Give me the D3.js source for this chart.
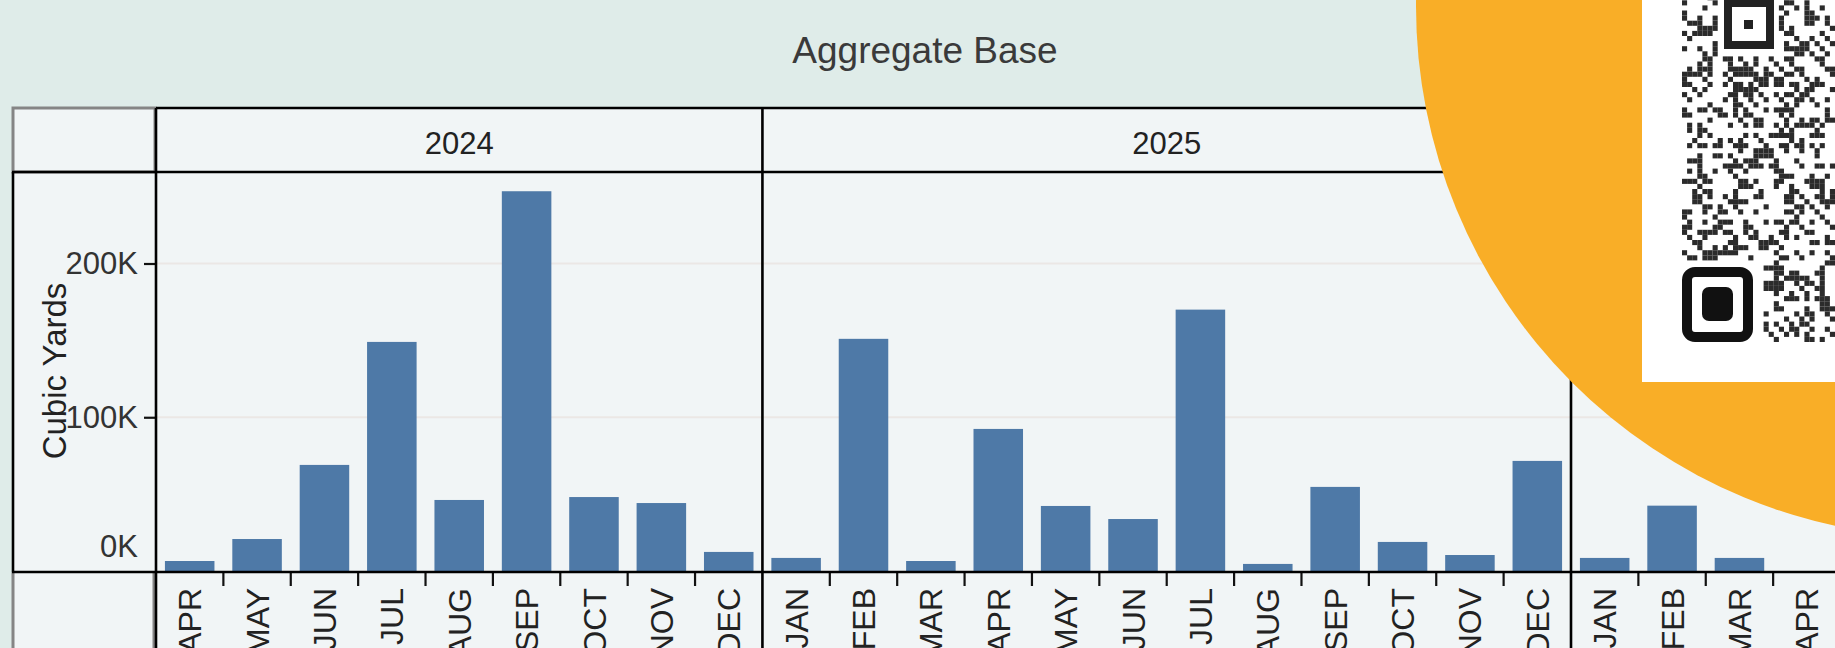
<!DOCTYPE html>
<meta charset="utf-8">
<style>
    body {
        margin: 0;
        font-family: "Liberation Sans", Arial, Helvetica, sans-serif;
        background: #dfece9;
    }

    svg {
        display: block;
    }

    text {
        font-family: "Liberation Sans", Arial, Helvetica, sans-serif;
    }
</style>

<body>
    <script src="https://d3js.org/d3.v7.min.js"></script>
    <script>

        // ------- data -------
        var years = ["2024", "2025", "2026"];

        var months2024 = ["APR", "MAY", "JUN", "JUL", "AUG", "SEP", "OCT", "NOV", "DEC"];
        var values2024 = [6500, 20800, 69000, 149000, 46200, 247000, 48100, 44200, 12400];

        var months2025 = ["JAN", "FEB", "MAR", "APR", "MAY", "JUN", "JUL", "AUG", "SEP", "OCT", "NOV", "DEC"];
        var values2025 = [8500, 151000, 6500, 92400, 42300, 33800, 170000, 4600, 54700, 18900, 10400, 71600];

        var months2026 = ["JAN", "FEB", "MAR", "APR"];
        var values2026 = [8500, 42500, 8500, 0];

        var yTicks = [0, 100000, 200000];

        var panes = [
            { year: years[0], months: months2024, values: values2024 },
            { year: years[1], months: months2025, values: values2025 },
            { year: years[2], months: months2026, values: values2026 }
        ];

        // ------- layout -------
        var width = 1835,
            height = 648;

        var leftX = 12,         // outer table edge
            axisX = 156,        // start of first pane
            topY = 108,         // top of year header
            headerBottom = 172, // bottom of year header
            baseY = 572;        // x axis line

        var totalMonths = months2024.length + months2025.length;
        var step = (1571 - axisX) / totalMonths;

        var y = d3.scaleLinear()
            .domain([0, 200000])
            .range([571, 263.5]);

        var svg = d3.select("body")
            .append("svg")
            .attr("width", width)
            .attr("height", height);

        svg.append("rect")
            .attr("width", width)
            .attr("height", height)
            .attr("fill", "#dfece9");

        // cell background
        svg.append("rect")
            .attr("x", leftX)
            .attr("y", topY)
            .attr("width", width - leftX)
            .attr("height", height - topY)
            .attr("fill", "#f1f5f6");

        // title
        svg.append("text")
            .attr("x", 925)
            .attr("y", 63)
            .attr("text-anchor", "middle")
            .style("font-size", "37px")
            .attr("fill", "#3a3a3a")
            .text("Aggregate Base");

        // gridlines
        svg.append("g").selectAll("line")
            .data(yTicks.filter(function (d) { return d > 0; }))
            .enter().append("line")
            .attr("x1", axisX)
            .attr("x2", width)
            .attr("y1", function (d) { return y(d); })
            .attr("y2", function (d) { return y(d); })
            .attr("stroke", "#ebe7e5")
            .attr("stroke-width", 2);

        /* ------- PANES -------*/
        var x0 = axisX;
        panes.forEach(function (p) {
            var w = p.months.length * step;
            var x = d3.scaleBand()
                .domain(p.months)
                .range([x0, x0 + w])
                .paddingInner(0.265)
                .paddingOuter(0.1325);

            var g = svg.append("g").attr("class", "pane");

            g.selectAll("rect.bar")
                .data(p.months.map(function (m, i) { return { m: m, v: p.values[i] }; }))
                .enter().append("rect")
                .attr("class", "bar")
                .attr("x", function (d) { return x(d.m); })
                .attr("width", x.bandwidth())
                .attr("y", function (d) { return y(d.v); })
                .attr("height", function (d) { return y(0) - y(d.v); })
                .attr("fill", "#4e79a7");

            // month labels
            var ax = g.append("g")
                .attr("transform", "translate(0," + baseY + ")")
                .call(d3.axisBottom(x).tickSize(0).tickSizeOuter(0));
            ax.select(".domain").remove();
            ax.selectAll("text")
                .attr("transform", "rotate(-90)")
                .attr("x", -16)
                .attr("y", 0)
                .attr("dy", "0.36em")
                .style("text-anchor", "end")
                .style("font-size", "32px")
                .attr("fill", "#222");

            // ticks between months
            g.selectAll("line.tick")
                .data(p.months.slice(1))
                .enter().append("line")
                .attr("x1", function (d) { return x(d) - (step - x.bandwidth()) / 2; })
                .attr("x2", function (d) { return x(d) - (step - x.bandwidth()) / 2; })
                .attr("y1", baseY)
                .attr("y2", baseY + 14)
                .attr("stroke", "#111")
                .attr("stroke-width", 2.2);

            // year header
            g.append("text")
                .attr("x", x0 + w / 2)
                .attr("y", 154)
                .attr("text-anchor", "middle")
                .style("font-size", "31px")
                .attr("fill", "#222")
                .text(p.year);

            p.x0 = x0;
            x0 += w;
        });

        /* ------- Y AXIS -------*/
        var yAxis = svg.append("g")
            .attr("transform", "translate(" + axisX + ",0)")
            .call(d3.axisLeft(y)
                .tickValues(yTicks)
                .tickSize(12)
                .tickPadding(6)
                .tickFormat(function (d) { return d / 1000 + "K"; }));
        yAxis.select(".domain").remove();
        yAxis.selectAll("line").attr("stroke", "#111").attr("stroke-width", 2.2);
        yAxis.selectAll("text")
            .style("font-size", "31px")
            .attr("fill", "#333");
        yAxis.selectAll(".tick").filter(function (d) { return d === 0; })
            .call(function (t) {
                t.select("line").remove();
                t.select("text").attr("y", -24);
            });

        svg.append("text")
            .attr("transform", "translate(66,371) rotate(-90)")
            .attr("text-anchor", "middle")
            .style("font-size", "33px")
            .attr("fill", "#222")
            .text("Cubic Yards");

        /* ------- TABLE LINES -------*/
        svg.append("rect")
            .attr("x", leftX + 1)
            .attr("y", topY)
            .attr("width", axisX - leftX - 2)
            .attr("height", headerBottom - topY)
            .attr("fill", "none")
            .attr("stroke", "#858585")
            .attr("stroke-width", 3);

        [leftX + 1, axisX - 2].forEach(function (lx) {
            svg.append("line")
                .attr("x1", lx).attr("x2", lx)
                .attr("y1", baseY).attr("y2", height)
                .attr("stroke", "#858585")
                .attr("stroke-width", 3);
        });

        var lines = svg.append("g")
            .attr("stroke", "#000")
            .attr("stroke-width", 2.6);

        lines.append("line").attr("x1", axisX).attr("x2", width).attr("y1", topY).attr("y2", topY);
        lines.append("line").attr("x1", leftX).attr("x2", width).attr("y1", headerBottom).attr("y2", headerBottom);
        lines.append("line").attr("x1", leftX).attr("x2", width).attr("y1", baseY).attr("y2", baseY);
        lines.append("line").attr("x1", leftX + 1).attr("x2", leftX + 1).attr("y1", headerBottom).attr("y2", baseY);

        panes.forEach(function (p) {
            lines.append("line")
                .attr("x1", p.x0).attr("x2", p.x0)
                .attr("y1", topY).attr("y2", height);
        });

        /* ------- OVERLAY: badge + QR -------*/
        svg.append("circle")
            .attr("cx", 1948)
            .attr("cy", 6)
            .attr("r", 532)
            .attr("fill", "#f9ae27");

        svg.append("rect")
            .attr("x", 1642)
            .attr("y", 0)
            .attr("width", width - 1642)
            .attr("height", 382)
            .attr("fill", "#ffffff");

        var qr = svg.append("g").attr("fill", "#2b2b2b");
        var cell = 5.1, qx = 1682, qBottom = 342;

        function hashDark(i, j) {
            var h = Math.imul(i, 374761393) + Math.imul(j, 668265263);
            h = Math.imul(h ^ (h >>> 13), 1274126177);
            h = (h ^ (h >>> 16)) >>> 0;
            return h % 100 < 46;
        }

        var cells = [];
        for (var j = 0; j < 68; j++) {
            for (var i = 0; i < 31; i++) {
                var cx = qx + i * cell,
                    cy = qBottom - (j + 1) * cell;
                if (cx < 1763 && cy > 256) continue;          // finder + separator
                if (cx > 1716 && cx < 1778 && cy < 56) continue; // alignment mark
                if (hashDark(i >> 1, j >> 1) && hashDark(i + 7, j + 3)) cells.push([cx, cy]);
                else if (hashDark(i, j + 11) && (i + j) % 3 === 0) cells.push([cx, cy]);
            }
        }
        qr.selectAll("rect")
            .data(cells)
            .enter().append("rect")
            .attr("x", function (d) { return d[0]; })
            .attr("y", function (d) { return d[1]; })
            .attr("width", cell)
            .attr("height", cell);

        // finder pattern
        svg.append("rect")
            .attr("x", 1687).attr("y", 272)
            .attr("width", 61).attr("height", 65)
            .attr("rx", 8)
            .attr("fill", "none")
            .attr("stroke", "#111")
            .attr("stroke-width", 10);
        svg.append("rect")
            .attr("x", 1702).attr("y", 287)
            .attr("width", 31).attr("height", 34)
            .attr("rx", 7)
            .attr("fill", "#111");

        // alignment mark
        svg.append("rect")
            .attr("x", 1728).attr("y", 3)
            .attr("width", 42).attr("height", 42)
            .attr("fill", "none")
            .attr("stroke", "#222")
            .attr("stroke-width", 8);
        svg.append("rect")
            .attr("x", 1744).attr("y", 20)
            .attr("width", 9).attr("height", 9)
            .attr("fill", "#222");

    </script>
</body>
